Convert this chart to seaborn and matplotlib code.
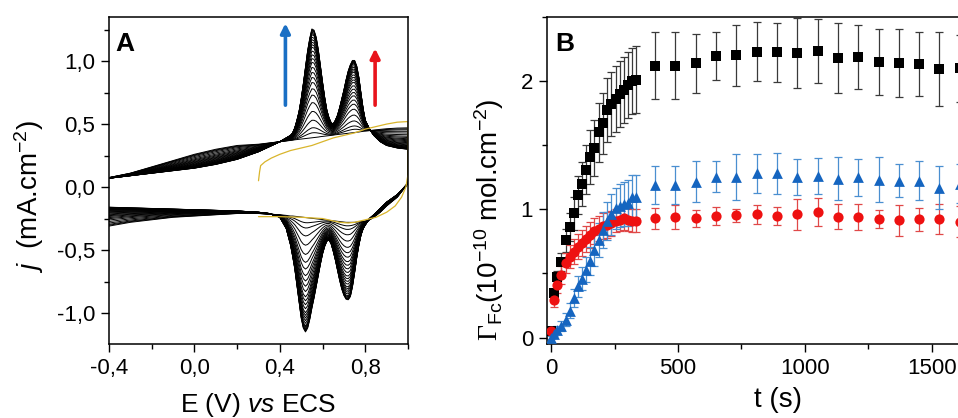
import numpy as np
import pandas as pd
import matplotlib
matplotlib.use("Agg")
import matplotlib.pyplot as plt
import seaborn as sns
from matplotlib.ticker import FixedLocator, FixedFormatter, MultipleLocator

sns.set_theme(style="ticks")
plt.rcParams["font.family"] = ["Liberation Sans", "DejaVu Sans"]
plt.rcParams["mathtext.fontset"] = "custom"
plt.rcParams["mathtext.rm"] = "Liberation Serif"
plt.rcParams["mathtext.it"] = "Liberation Sans:italic"
plt.rcParams["mathtext.sf"] = "Liberation Sans"
plt.rcParams["axes.linewidth"] = 1.1
for key in ("text.color", "axes.labelcolor", "xtick.color", "ytick.color", "axes.edgecolor"):
    plt.rcParams[key] = "black"

# ---------------- Panel A data (cyclic voltammograms) ----------------
E_grid = [-0.45, -0.4, -0.3, -0.2, -0.1, 0.0, 0.1, 0.2, 0.3, 0.35, 0.4, 0.43, 0.45,
          0.46, 0.47, 0.48, 0.49, 0.50, 0.51, 0.52, 0.53, 0.54, 0.55, 0.56, 0.57,
          0.58, 0.59, 0.60, 0.61, 0.62, 0.63, 0.64, 0.65, 0.66, 0.67, 0.68, 0.69,
          0.70, 0.71, 0.72, 0.73, 0.74, 0.75, 0.76, 0.77, 0.78, 0.79, 0.80,
          0.82, 0.84, 0.87, 0.90, 0.95, 1.0]

# outermost (last) cycle, anodic sweep
j_last_anodic = [0.06, 0.07, 0.09, 0.11, 0.13, 0.15, 0.18, 0.22, 0.28, 0.32, 0.36, 0.39, 0.41,
                 0.43, 0.47, 0.53, 0.60, 0.70, 0.82, 0.95, 1.08, 1.18, 1.255, 1.245, 1.19,
                 1.09, 0.96, 0.83, 0.71, 0.61, 0.55, 0.51, 0.50, 0.53, 0.57, 0.63, 0.70,
                 0.77, 0.85, 0.92, 0.97, 1.005, 1.005, 0.96, 0.87, 0.74, 0.62, 0.53,
                 0.46, 0.41, 0.36, 0.33, 0.31, 0.30]
# first cycle, anodic sweep
j_first_anodic = [0.07, 0.075, 0.11, 0.16, 0.21, 0.26, 0.30, 0.33, 0.34, 0.35, 0.36, 0.366, 0.37,
                  0.372, 0.375, 0.377, 0.379, 0.381, 0.383, 0.385, 0.387, 0.389, 0.391, 0.393, 0.395,
                  0.397, 0.40, 0.402, 0.404, 0.406, 0.408, 0.41, 0.412, 0.415, 0.417, 0.419, 0.421,
                  0.423, 0.425, 0.427, 0.429, 0.431, 0.433, 0.435, 0.437, 0.44, 0.442, 0.444,
                  0.448, 0.452, 0.458, 0.463, 0.468, 0.47]
# outermost (last) cycle, cathodic sweep
j_last_cathodic = [-0.16, -0.16, -0.165, -0.17, -0.175, -0.18, -0.185, -0.19, -0.20, -0.21, -0.24, -0.33, -0.46,
                   -0.55, -0.65, -0.78, -0.91, -1.04, -1.12, -1.15, -1.12, -1.05, -0.96, -0.88, -0.79,
                   -0.70, -0.61, -0.53, -0.47, -0.43, -0.42, -0.45, -0.51, -0.58, -0.66, -0.74, -0.81,
                   -0.86, -0.89, -0.895, -0.87, -0.79, -0.68, -0.56, -0.46, -0.38, -0.33, -0.30,
                   -0.25, -0.22, -0.17, -0.12, -0.06, 0.03]
# first cycle, cathodic sweep
j_first_cathodic = [-0.32, -0.31, -0.28, -0.26, -0.24, -0.23, -0.22, -0.21, -0.21, -0.215, -0.22, -0.225, -0.23,
                    -0.23, -0.232, -0.234, -0.236, -0.238, -0.24, -0.242, -0.244, -0.246, -0.248, -0.25, -0.252,
                    -0.254, -0.256, -0.258, -0.26, -0.262, -0.264, -0.266, -0.268, -0.27, -0.272, -0.274, -0.276,
                    -0.278, -0.28, -0.28, -0.28, -0.28, -0.28, -0.278, -0.276, -0.274, -0.272, -0.27,
                    -0.26, -0.24, -0.20, -0.15, -0.08, 0.03]
# anodic peak height (0.55 V) of each successive cycle
peak_height = [0.391, 0.43, 0.47, 0.53, 0.60, 0.67, 0.73, 0.78, 0.83, 0.87, 0.91, 0.95, 0.99,
               1.02, 1.05, 1.08, 1.11, 1.13, 1.15, 1.17, 1.19, 1.21, 1.22, 1.23, 1.24, 1.245,
               1.25, 1.255]

# initial (gold) scan
E_gold = [0.30, 0.305, 0.31, 0.33, 0.36, 0.40, 0.45, 0.50, 0.55, 0.60, 0.65, 0.70, 0.75,
          0.80, 0.85, 0.90, 0.95, 1.0, 1.0, 0.99, 0.97, 0.94, 0.90, 0.85, 0.80, 0.75,
          0.72, 0.68, 0.64, 0.60, 0.50, 0.40, 0.30]
j_gold = [0.05, 0.12, 0.17, 0.20, 0.23, 0.26, 0.29, 0.31, 0.33, 0.36, 0.39, 0.41, 0.43,
          0.46, 0.48, 0.50, 0.515, 0.52, 0.10, 0.0, -0.08, -0.15, -0.20, -0.24, -0.26, -0.28,
          -0.285, -0.28, -0.265, -0.25, -0.24, -0.235, -0.235]

xticks_A = [-0.4, 0.0, 0.4, 0.8]
xlabels_A = ["-0,4", "0,0", "0,4", "0,8"]
yticks_A = [-1.0, -0.5, 0.0, 0.5, 1.0]
ylabels_A = ["-1,0", "-0,5", "0,0", "0,5", "1,0"]

# ---------------- Panel B data (surface coverage vs time) ----------------
t_s = [0, 10, 25, 41, 58, 74, 90, 106, 122, 138, 155, 171, 188, 205, 221, 238, 254, 270,
       286, 302, 318, 333, 410, 490, 570, 650, 730, 810, 890, 970, 1050, 1130, 1210,
       1290, 1370, 1450, 1530, 1610]
gamma_black = [0.05, 0.35, 0.47, 0.59, 0.76, 0.86, 0.97, 1.11, 1.20, 1.31, 1.41, 1.48, 1.60,
               1.67, 1.775, 1.82, 1.86, 1.90, 1.93, 1.97, 2.00, 2.01,
               2.12, 2.12, 2.14, 2.195, 2.20, 2.23, 2.225, 2.22, 2.237, 2.18, 2.185, 2.15,
               2.14, 2.135, 2.094, 2.10]
err_black = [0.02, 0.03, 0.05, 0.07, 0.09, 0.11, 0.13, 0.15, 0.17, 0.19, 0.21, 0.22, 0.23,
             0.24, 0.25, 0.25, 0.26, 0.26, 0.26, 0.26, 0.26, 0.26,
             0.26, 0.26, 0.23, 0.19, 0.24, 0.23, 0.23, 0.27, 0.25, 0.27, 0.25, 0.26,
             0.265, 0.25, 0.29, 0.26]
gamma_red = [0.05, 0.29, 0.41, 0.49, 0.58, 0.63, 0.67, 0.71, 0.74, 0.77, 0.80, 0.83, 0.85,
             0.87, 0.88, 0.89, 0.91, 0.92, 0.93, 0.92, 0.91, 0.91,
             0.93, 0.94, 0.93, 0.95, 0.955, 0.96, 0.95, 0.96, 0.98, 0.943, 0.94, 0.923,
             0.915, 0.923, 0.925, 0.905]
err_red = [0.03, 0.05, 0.06, 0.07, 0.08, 0.09, 0.10, 0.10, 0.10, 0.10, 0.10, 0.10, 0.10,
           0.10, 0.10, 0.10, 0.09, 0.09, 0.09, 0.09, 0.09, 0.09,
           0.08, 0.095, 0.065, 0.07, 0.05, 0.075, 0.07, 0.12, 0.11, 0.10, 0.10, 0.07,
           0.12, 0.09, 0.12, 0.12]
gamma_blue = [0.0, 0.03, 0.06, 0.09, 0.14, 0.21, 0.31, 0.40, 0.46, 0.53, 0.60, 0.68, 0.76,
              0.84, 0.91, 0.96, 1.01, 1.03, 1.04, 1.05, 1.10, 1.10,
              1.19, 1.19, 1.216, 1.255, 1.255, 1.28, 1.28, 1.255, 1.26, 1.24, 1.25, 1.23,
              1.225, 1.225, 1.17, 1.20]
err_blue = [0.01, 0.02, 0.03, 0.04, 0.05, 0.06, 0.07, 0.08, 0.09, 0.10, 0.11, 0.12, 0.13,
            0.14, 0.15, 0.16, 0.16, 0.17, 0.17, 0.18, 0.17, 0.17,
            0.15, 0.15, 0.16, 0.12, 0.18, 0.15, 0.16, 0.14, 0.14, 0.165, 0.145, 0.175,
            0.13, 0.155, 0.17, 0.15]

# ---------------- build CV table ----------------
E_arr = np.array(E_grid)
h = np.array(peak_height)
frac = (h - h[0]) / (h[-1] - h[0])
rows = []
for c, f in enumerate(frac):
    ja = np.array(j_first_anodic) + f * (np.array(j_last_anodic) - np.array(j_first_anodic))
    jc = np.array(j_first_cathodic) + f * (np.array(j_last_cathodic) - np.array(j_first_cathodic))
    E_loop = np.concatenate([E_arr, E_arr[::-1]])
    j_loop = np.concatenate([ja, jc[::-1]])
    for k, (e, j) in enumerate(zip(E_loop, j_loop)):
        rows.append((c, k, e, j))
cv = pd.DataFrame(rows, columns=["cycle", "order", "E", "j"])
gold = pd.DataFrame({"E": E_gold, "j": j_gold, "order": range(len(E_gold))})

fig = plt.figure(figsize=(9.58, 4.18), dpi=100)
axA = fig.add_axes([109 / 958, 74 / 418, 299 / 958, 327 / 418])
axB = fig.add_axes([547 / 958, 74 / 418, (1008 - 547) / 958, 327 / 418])

# ---- panel A ----
sns.lineplot(data=cv, x="E", y="j", units="cycle", estimator=None, sort=False,
             color="black", lw=0.7, ax=axA)
sns.lineplot(data=gold, x="E", y="j", estimator=None, sort=False,
             color="#d9b52c", lw=0.9, ax=axA)
axA.set_xlim(-0.4, 1.0)
axA.set_ylim(-1.246, 1.35)
axA.xaxis.set_major_locator(FixedLocator(xticks_A))
axA.xaxis.set_major_formatter(FixedFormatter(xlabels_A))
axA.yaxis.set_major_locator(FixedLocator(yticks_A))
axA.yaxis.set_major_formatter(FixedFormatter(ylabels_A))
axA.xaxis.set_minor_locator(MultipleLocator(0.2))
axA.yaxis.set_minor_locator(MultipleLocator(0.25))
axA.set_xlabel(r"E (V) $\mathit{vs}$ ECS", fontsize=19, labelpad=9)
axA.set_ylabel(r"$\mathit{j}$  (mA.cm$^{\mathsf{-2}}$)", fontsize=20)
axA.yaxis.set_label_coords(-0.21, 0.45)
axA.annotate("", xy=(0.426, 1.30), xytext=(0.426, 0.65),
             arrowprops=dict(arrowstyle="-|>", color="#1a6fc4", lw=2.6, mutation_scale=14,
                             shrinkA=0, shrinkB=0))
axA.annotate("", xy=(0.846, 1.10), xytext=(0.846, 0.65),
             arrowprops=dict(arrowstyle="-|>", color="#e8141c", lw=2.6, mutation_scale=14,
                             shrinkA=0, shrinkB=0))
axA.text(0.02, 0.955, "A", transform=axA.transAxes, fontsize=19, fontweight="bold",
         va="top", ha="left")

# ---- panel B ----
series = [
    (gamma_black, err_black, "black", "#3a3a3a", "s", 44),
    (gamma_red, err_red, "#ee1111", "#e04848", "o", 54),
    (gamma_blue, err_blue, "#1565c0", "#4a8fd0", "^", 60),
]
for g, e, col, ecol, mk, sz in series:
    axB.errorbar(t_s, g, yerr=e, fmt="none", ecolor=ecol, elinewidth=0.9,
                 capsize=3.2, capthick=0.9, zorder=2)
    dfb = pd.DataFrame({"t": t_s, "gamma": g})
    sns.scatterplot(data=dfb, x="t", y="gamma", marker=mk, s=sz, color=col,
                    edgecolor=col, linewidth=0, ax=axB, zorder=3)
axB.set_xlim(-16, 1800)
axB.set_ylim(-0.05, 2.5)
axB.xaxis.set_major_locator(FixedLocator([0, 500, 1000, 1500]))
axB.xaxis.set_minor_locator(MultipleLocator(250))
axB.yaxis.set_major_locator(FixedLocator([0, 1, 2]))
axB.yaxis.set_minor_locator(MultipleLocator(0.5))
axB.set_xlabel("t (s)", fontsize=20, labelpad=6)
axB.set_ylabel(r"$\Gamma_{\mathsf{Fc}}$(10$^{\mathsf{-10}}$ mol.cm$^{\mathsf{-2}}$)",
               fontsize=20)
axB.yaxis.set_label_coords(-0.09, 0.38)
axB.text(0.018, 0.955, "B", transform=axB.transAxes, fontsize=19, fontweight="bold",
         va="top", ha="left")

for ax in (axA, axB):
    for s in ax.spines.values():
        s.set_visible(True)
        s.set_color("black")
        s.set_linewidth(1.1)
    ax.tick_params(axis="both", which="major", direction="out", length=6, width=1.0,
                   labelsize=16, top=False, right=False, color="black", pad=4)
    ax.tick_params(axis="both", which="minor", direction="out", length=3.5, width=1.0,
                   top=False, right=False, color="black")
    ax.set_facecolor("white")

fig.savefig("out.png", dpi=100, facecolor="white")
